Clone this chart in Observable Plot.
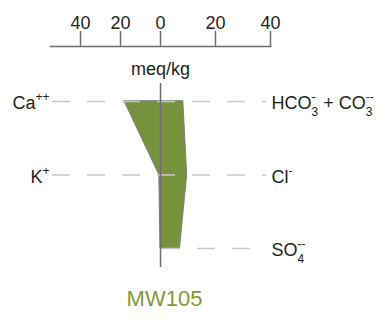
<!DOCTYPE html>
<html><head><meta charset="utf-8">
<script src="https://cdn.jsdelivr.net/npm/d3@7"></script>
<script src="https://cdn.jsdelivr.net/npm/@observablehq/plot@0.6"></script>
<style>
body{margin:0;background:#fff}
svg{font-family:"Liberation Sans",Arial,sans-serif}
</style>
</head><body><div id="chart"></div>
<script>
// Stiff diagram data (meq/kg)
const cations = ["Ca^{++}", "K^{+}", ""];
const anions = ["HCO_{3}^{-} + CO_{3}^{--}", "Cl^{-}", "SO_{4}^{--}"];
const cationValues = [18, 0.6, 0];
const anionValues = [8.3, 9.7, 7.1];
const tickValues = [-40, -20, 0, 20, 40];
const axisTitle = ["meq/kg"];
const station = ["MW105"];

// the reference draws cations (left) and anions (right) at different scales
const leftScale = 2, rightScale = 2.75;
const warp = v => v < 0 ? v * leftScale : v * rightScale;
const unwarp = v => v < 0 ? v / leftScale : v / rightScale;
const xMin = -55, xMax = 40;

const rows = cations.map((c, i) => ({i, cation: c, anion: anions[i], left: -cationValues[i], right: anionValues[i]}));

const ink = "#231f20";
const axisGray = "#6d6d6d";

const chart = Plot.plot({
  width: 385, height: 328,
  marginTop: 46, marginLeft: 50, marginRight: 115, marginBottom: 61,
  style: {fontFamily: '"Liberation Sans", Arial, sans-serif', fontSize: "18px", color: ink, background: "#fff"},
  x: {domain: [warp(xMin), warp(xMax)], axis: null},
  y: {domain: [0, 2], range: [101, 248], axis: null},
  marks: [
    Plot.areaX(rows, {y: "i", x1: d => warp(d.left), x2: d => warp(d.right), fill: "#76923c", stroke: "#808080", strokeWidth: 1}),
    Plot.ruleY(rows, {y: "i", x1: d => d.cation ? warp(xMin) : 0, x2: warp(xMax), stroke: "#c8c8c8", strokeWidth: 1.3, strokeDasharray: "18,17", insetLeft: 2, insetRight: 4}),
    Plot.ruleX([0], {x: warp, stroke: axisGray, strokeWidth: 1.5, insetTop: 37}),
    Plot.frame({anchor: "top", stroke: axisGray, strokeWidth: 1.5}),
    Plot.axisX(tickValues.map(warp), {anchor: "top", tickSize: 16, tickPadding: 2, tickFormat: d => Math.round(Math.abs(unwarp(d))), fontSize: 18, stroke: axisGray, strokeWidth: 1.5, label: null, fill: ink}),
    Plot.text(axisTitle, {x: () => 0, frameAnchor: "top", dy: 16, fontSize: 18, fill: ink}),
    Plot.text(rows.filter(d => d.cation), {y: "i", text: "cation", frameAnchor: "left", textAnchor: "end", dx: -1, dy: 2, fontSize: 18, fill: ink}),
    Plot.text(rows, {y: "i", text: "anion", frameAnchor: "right", textAnchor: "start", dx: 1, dy: 2, fontSize: 18, fill: ink}),
    Plot.text(station, {x: () => 0, frameAnchor: "bottom", dx: 4, dy: 38, fontSize: 22, fill: "#7f9b3a"})
  ]
});
document.getElementById("chart").append(chart);

// turn ^{..} and _{..} markup into real super/subscript tspans
function richify(el) {
  const raw = el.textContent;
  const re = /([_^])\{([^}]*)\}/g;
  const toks = [];
  let last = 0, m;
  while ((m = re.exec(raw))) {
    if (m.index > last) toks.push({t: "plain", s: raw.slice(last, m.index)});
    toks.push({t: m[1] === "^" ? "sup" : "sub", s: m[2]});
    last = re.lastIndex;
  }
  if (last < raw.length) toks.push({t: "plain", s: raw.slice(last)});
  el.textContent = "";
  const NS = "http://www.w3.org/2000/svg";
  let cur = 0, pendingDx = 0, prevSub = null;
  for (const tok of toks) {
    const ts = document.createElementNS(NS, "tspan");
    ts.textContent = tok.s;
    let off = 0;
    if (tok.t === "sup") { off = -8; ts.setAttribute("font-size", "12px"); }
    if (tok.t === "sub") { off = 7; ts.setAttribute("font-size", "12px"); }
    ts.setAttribute("dy", off - cur);
    cur = off;
    el.appendChild(ts);
    if (tok.t === "sup" && prevSub) {
      const w = prevSub.getComputedTextLength();
      ts.setAttribute("dx", -w);
      const w2 = ts.getComputedTextLength();
      pendingDx = Math.max(0, w - w2);
    } else if (pendingDx) {
      ts.setAttribute("dx", pendingDx);
      pendingDx = 0;
    }
    prevSub = tok.t === "sub" ? ts : null;
  }
}
chart.querySelectorAll("text").forEach(el => {
  if (/[_^]\{/.test(el.textContent)) richify(el);
});
</script>
</body></html>
